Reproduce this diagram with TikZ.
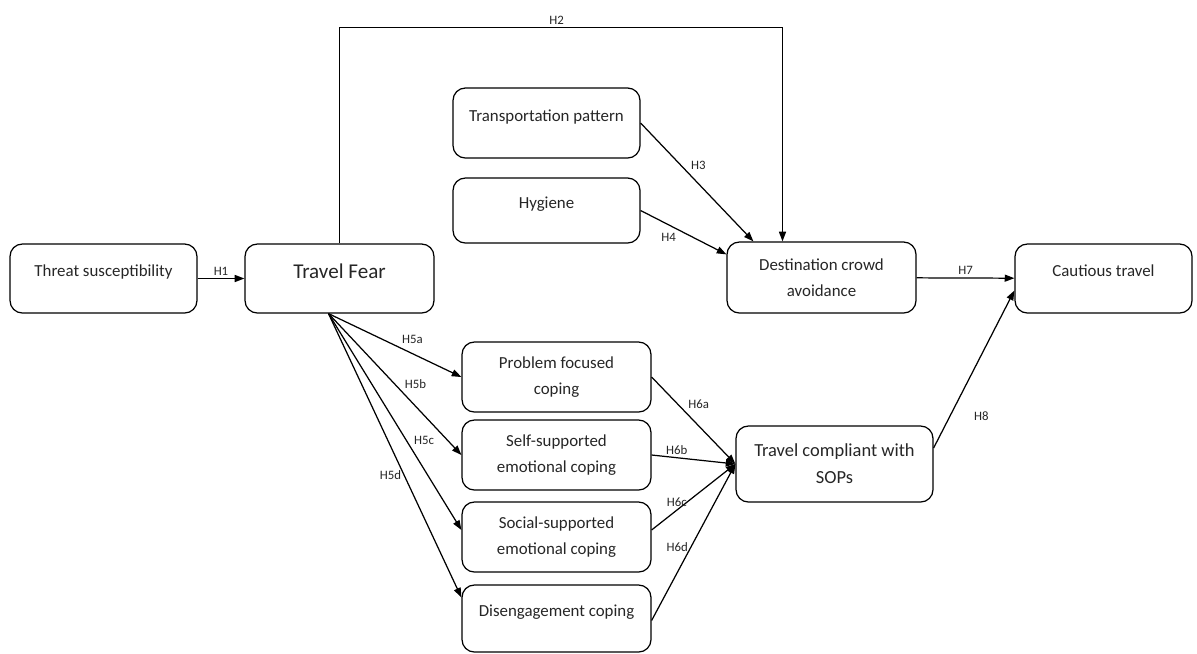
\documentclass[tikz,border=0pt]{standalone}
\usepackage{fontspec}
\setmainfont{Carlito}
\usetikzlibrary{arrows.meta}
\usetikzlibrary{calc}

\tikzset{
    box/.style={draw, line width=0.7pt, rounded corners=7pt, align=center, text=black!85,
        font=\fontsize{9.6}{14.5}\selectfont, inner sep=2pt},
    oneline/.style={text depth=0.3cm},
    hyp/.style={font=\fontsize{7.3}{8}\selectfont, text=black!85, inner sep=1.5pt},
    link/.style={line width=0.7pt, -{Triangle[length=5.5pt,width=4pt]}},
}

\begin{document}
\begin{tikzpicture}[x=0.02cm, y=-0.02cm]
            \useasboundingbox (0,0) rectangle (1197,653);
            \node[box, oneline, minimum width=3.74cm, minimum height=1.38cm] (T) at (103.5,278.5) {Threat susceptibility};
            \node[box, oneline, minimum width=3.78cm, minimum height=1.38cm, font=\fontsize{12}{14}\selectfont] (F) at (339.5,278.5) {Travel Fear};
            \node[box, oneline, minimum width=3.74cm, minimum height=1.40cm] (P) at (546.5,123) {Transportation pattern};
            \node[box, oneline, minimum width=3.74cm, minimum height=1.30cm] (Hy) at (546.5,210.5) {Hygiene};
            \node[box, minimum width=3.78cm, minimum height=1.42cm] (D) at (821.5,277.5) {Destination crowd\\avoidance};
            \node[box, oneline, minimum width=3.54cm, minimum height=1.38cm] (C) at (1103.5,278.5) {Cautious travel};
            \node[box, minimum width=3.94cm, minimum height=1.52cm, font=\fontsize{10.5}{15.5}\selectfont] (S) at (834.5,464) {Travel compliant with\\SOPs};
            \node[box, minimum width=3.78cm, minimum height=1.40cm] (K1) at (556.5,377) {Problem focused\\coping};
            \node[box, minimum width=3.78cm, minimum height=1.40cm] (K2) at (556.5,455) {Self-supported\\emotional coping};
            \node[box, minimum width=3.78cm, minimum height=1.40cm] (K3) at (556.5,537) {Social-supported\\emotional coping};
            \node[box, oneline, minimum width=3.78cm, minimum height=1.34cm] (K4) at (556.5,618.5) {Disengagement coping};
            \coordinate (fan) at ($(F.south) + (-11,0)$);
            \draw[link] (T) to node[hyp, above] {H1} (F);
            \draw[link] (F.north) -- ++(0,-216) -| node[hyp, pos=0.245, above] {H2} ($(D.north) + (-39,0)$);
            \draw[link] (P.east) to node[hyp, pos=0.42, above right] {H3} ($(D.north west) + (27,0)$);
            \draw[link] (Hy.east) to node[hyp, pos=0.45, below left] {H4} ($(D.north west) + (0,13)$);
            \draw[link] (D) to node[hyp, above] {H7} (C);
            \draw[link] ($(S.east) + (0,-16)$) to node[hyp, pos=0.2, right=12pt] {H8} ($(C.west) + (0,12)$);
            \draw[link] (fan) to node[hyp, pos=0.53, above right] {H5a} (K1.west);
            \draw[link] (fan) to node[hyp, pos=0.55, above right] {H5b} (K2.west);
            \draw[link] (fan) to node[hyp, pos=0.62, above right] {H5c} ($(K3.west) + (0,-7)$);
            \draw[link] (fan) to node[hyp, pos=0.57, left] {H5d} ($(K4.west) + (0,-21)$);
            \draw[link] (K1.east) to node[hyp, pos=0.4, above right] {H6a} (S.west);
            \draw[link] (K2.east) to node[hyp, pos=0.3, above] {H6b} (S.west);
            \draw[link] ($(K3.east) + (0,-7)$) to node[hyp, pos=0.3, above] {H6c} (S.west);
            \draw[link] ($(K4.east) + (0,2)$) to node[hyp, pos=0.47, left] {H6d} (S.west);
        \end{tikzpicture}
\end{document}
